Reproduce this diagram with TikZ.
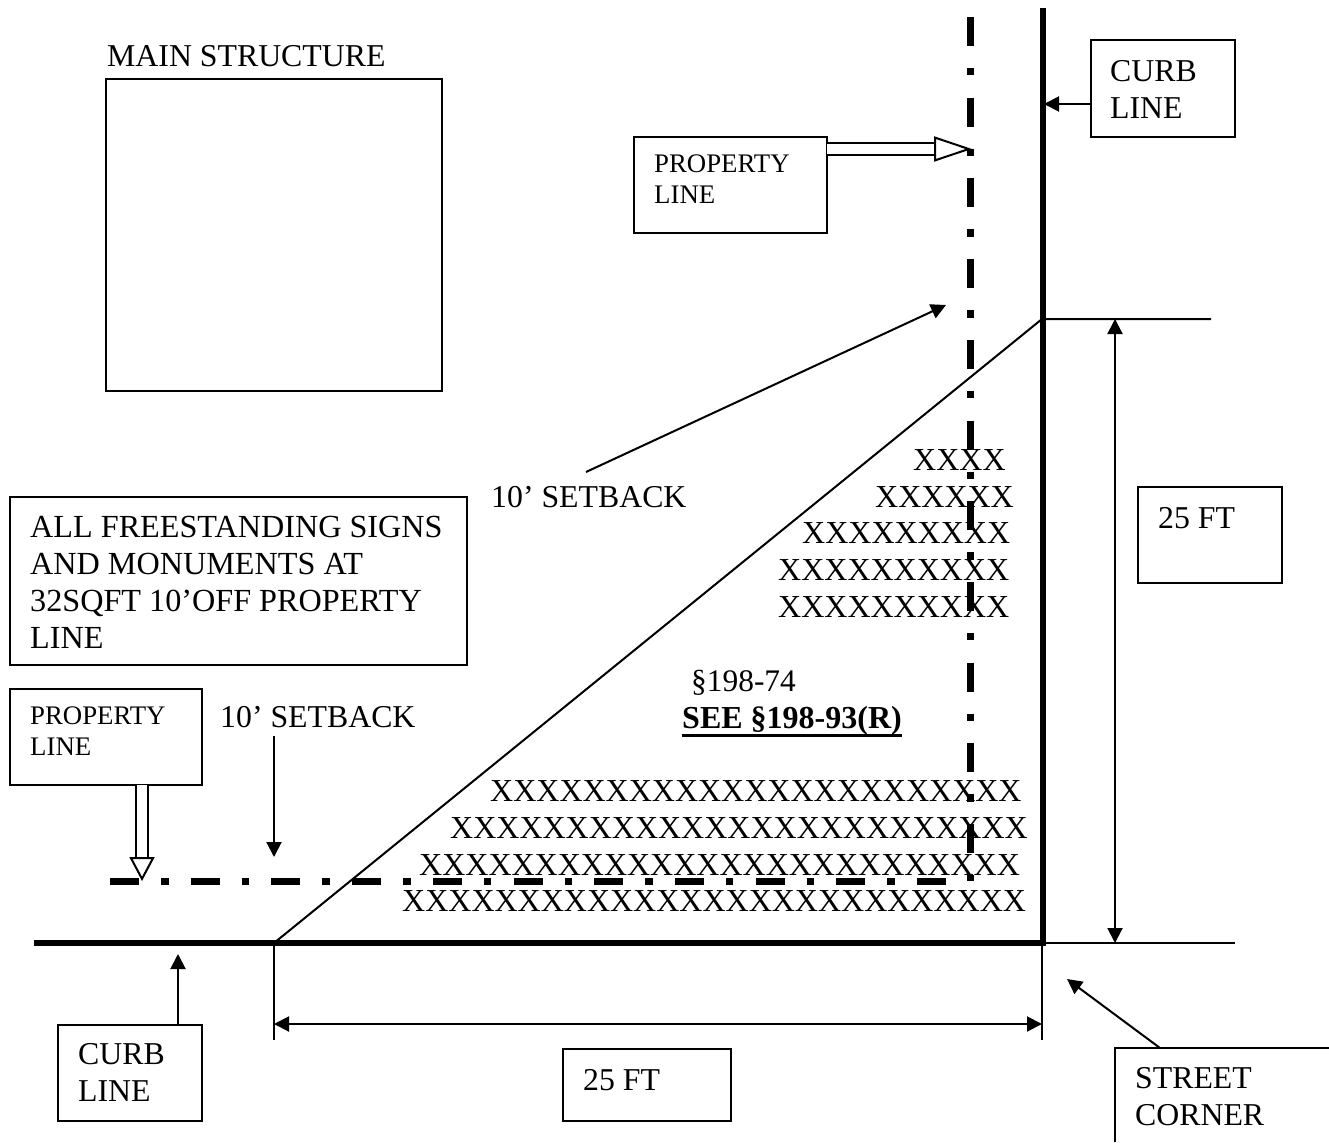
\documentclass[tikz,border=0pt]{standalone}
\usepackage{fontspec}
\setmainfont{Liberation Serif}
\usetikzlibrary{arrows.meta}
\tikzset{
    bigtext/.style={font=\fontsize{31.8}{37}\selectfont, inner sep=0pt, align=left, anchor=north west},
    smalltext/.style={font=\fontsize{26.8}{31}\selectfont, inner sep=0pt, align=left, anchor=north west},
    xrow/.style={font=\fontsize{32}{37}\selectfont, inner sep=0pt, anchor=base west},
    framebox/.style={draw, line width=2pt, inner sep=0pt, outer sep=0pt, anchor=north west},
    thinline/.style={line width=2pt},
    curbline/.style={line width=6pt},
    propline/.style={line width=7pt, dash pattern=on 29pt off 22pt on 7.5pt off 22.2pt},
    pointer/.style={line width=2pt, -{Triangle[length=15pt,width=15pt]}},
    bothways/.style={line width=2pt, {Triangle[length=15pt,width=15pt]}-{Triangle[length=15pt,width=15pt]}},
    hollow/.style={line width=2pt, double, double distance=10.5pt, -{Triangle[open,fill=white,length=#1,width=25pt,line width=2pt]}}
}
\begin{document}
\begin{tikzpicture}[x=1pt,y=-1pt]
    \useasboundingbox (0,0) rectangle (1329,1142);

    % boxes
    \node[framebox, minimum width=336pt, minimum height=312pt] (mainbox) at (106,79) {};
    \node[framebox, minimum width=193pt, minimum height=96pt] (propboxtop) at (634,137) {};
    \node[framebox, minimum width=144pt, minimum height=97pt] (curbboxtop) at (1091,40) {};
    \node[framebox, minimum width=144pt, minimum height=96pt] (ftboxright) at (1138,487) {};
    \node[framebox, minimum width=457pt, minimum height=168pt] (signbox) at (10,497) {};
    \node[framebox, minimum width=192pt, minimum height=96pt] (propboxleft) at (10,689) {};
    \node[framebox, minimum width=144pt, minimum height=96pt] (curbboxlow) at (58,1025) {};
    \node[framebox, minimum width=168pt, minimum height=72pt] (ftboxlow) at (563,1049) {};
    \coordinate (cornerright) at (1329,1048);
    \coordinate (cornerleft) at (1115,1048);
    \coordinate (cornerdown) at (1115,1142);
    \draw[thinline] (cornerright) -- (cornerleft) -- (cornerdown);

    % x rows
    \foreach \rowname/\xs/\ys/\xtext in {
        rowa/913/470/XXXX,
        rowb/875/507/XXXXXX,
        rowc/802/543/XXXXXXXXX,
        rowd/778/580/XXXXXXXXXX,
        rowe/778/617/XXXXXXXXXX,
        rowf/490/801/XXXXXXXXXXXXXXXXXXXXXXX,
        rowg/450/838/XXXXXXXXXXXXXXXXXXXXXXXXX,
        rowh/419/875/XXXXXXXXXXXXXXXXXXXXXXXXXX,
        rowi/402/911/XXXXXXXXXXXXXXXXXXXXXXXXXXX} {
        \node[xrow] (\rowname) at (\xs,\ys) {\xtext};
    }

    % property lines and curb lines
    \coordinate (propvtop) at (970,17);
    \coordinate (propvend) at (970,881);
    \coordinate (prophstart) at (110,881);
    \coordinate (prophend) at (946,881);
    \draw[propline] (propvtop) -- (propvend);
    \draw[propline] (prophstart) -- (prophend);
    \coordinate (curbvtop) at (1042.5,8);
    \coordinate (curbcorner) at (1042.5,943);
    \coordinate (curbhstart) at (34,943);
    \draw[curbline] (curbvtop) -- (curbcorner) -- (curbhstart);

    % triangle and dimensions
    \coordinate (triright) at (1042,319);
    \coordinate (trilow) at (274,943);
    \coordinate (extright) at (1211,319);
    \coordinate (extcorner) at (1235,943);
    \coordinate (ticklow) at (274,1040);
    \coordinate (tickcorner) at (1042,1040);
    \coordinate (dimvtop) at (1115,319);
    \coordinate (dimvlow) at (1115,943);
    \coordinate (dimhleft) at (274,1024);
    \coordinate (dimhright) at (1042,1024);
    \draw[thinline] (trilow) -- (triright) -- (extright);
    \draw[thinline] (curbcorner) -- (extcorner);
    \draw[thinline] (trilow) -- (ticklow);
    \draw[thinline] (tickcorner |- curbcorner) -- (tickcorner);
    \draw[bothways] (dimvtop) -- (dimvlow);
    \draw[bothways] (dimhleft) -- (dimhright);

    % labels
    \node[bigtext] (maintext) at (107,45) {MAIN STRUCTURE};
    \node[smalltext] (proptexttop) at (654,155) {PROPERTY\\LINE};
    \node[bigtext] (curbtexttop) at (1110,60) {CURB\\LINE};
    \node[bigtext] (fttextright) at (1158,507) {25 FT};
    \node[bigtext] (setbacktop) at (491,486) {10’ SETBACK};
    \node[bigtext, font=\fontsize{32.2}{37}\selectfont] (signtext) at (30,515.5) {ALL FREESTANDING SIGNS\\AND MONUMENTS AT\\32SQFT 10’OFF PROPERTY\\LINE};
    \node[smalltext] (proptextleft) at (30,707) {PROPERTY\\LINE};
    \node[bigtext] (setbacklow) at (220,706) {10’ SETBACK};
    \node[bigtext, font=\fontsize{31.4}{37}\selectfont] (codetext) at (691,670) {§198-74};
    \node[bigtext, font=\fontsize{32}{37}\selectfont] (seetext) at (682,706.5) {\textbf{SEE §198-93(R)}};
    \node[bigtext] (curbtextlow) at (78,1043) {CURB\\LINE};
    \node[bigtext] (fttextlow) at (583,1069) {25 FT};
    \node[bigtext] (streettext) at (1135,1067) {STREET\\CORNER};
    \draw[line width=3pt] (seetext.south west) -- (seetext.south east);

    % pointers
    \coordinate (curbtiptop) at (1044,104);
    \coordinate (curbtiplow) at (178,954);
    \coordinate (setbacktiptop) at (946,305);
    \coordinate (setbackstart) at (586,472);
    \coordinate (setbacktiplow) at (274,857);
    \coordinate (setbackfrom) at (274,736);
    \coordinate (cornertip) at (1067,979);
    \coordinate (cornerfrom) at (1160,1048);
    \coordinate (proptiptop) at (972,149);
    \coordinate (proptipleft) at (142,881);
    \draw[pointer] (curbboxtop.west |- curbtiptop) -- (curbtiptop);
    \draw[pointer] (curbboxlow.north -| curbtiplow) -- (curbtiplow);
    \draw[pointer] (setbackstart) -- (setbacktiptop);
    \draw[pointer] (setbackfrom) -- (setbacktiplow);
    \draw[pointer] (cornerfrom) -- (cornertip);
    \draw[hollow=38pt] (propboxtop.east |- proptiptop) -- (proptiptop);
    \draw[hollow=24pt] (propboxleft.south -| proptipleft) -- (proptipleft);
\end{tikzpicture}
\end{document}
